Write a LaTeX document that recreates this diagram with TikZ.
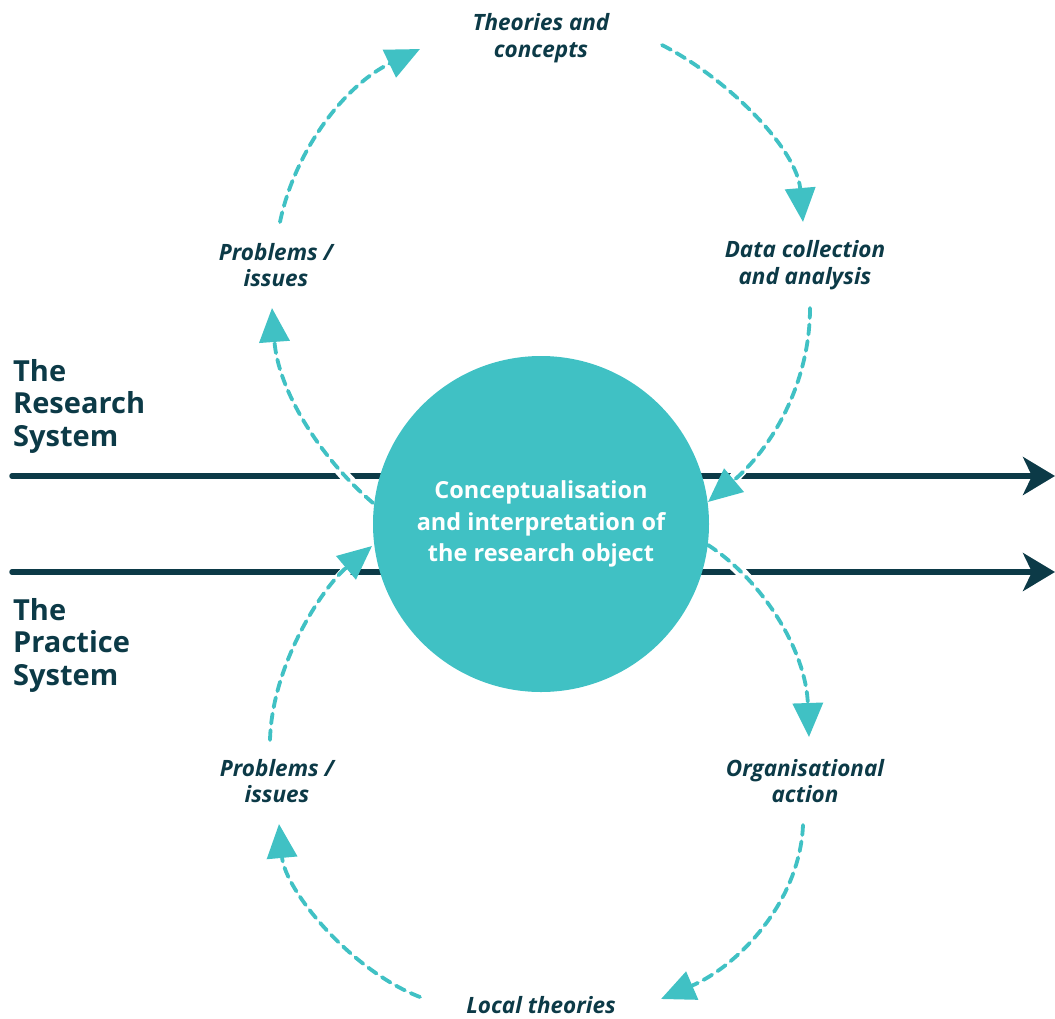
\documentclass[tikz,border=0pt]{standalone}
\usepackage{fontspec}
\setmainfont{Open Sans}
\usetikzlibrary{arrows.meta}
\definecolor{teal1}{HTML}{40C1C4}
\definecolor{dark1}{HTML}{0C3A47}
\begin{document}
\begin{tikzpicture}[x=1pt,y=-1pt,
  sysline/.style={line width=5.5pt,draw=dark1,line cap=round,-{Stealth[length=32pt,width=38pt,inset=9pt]}},
  casing/.style={line width=11pt,draw=white},
  flow/.style={line width=3.8pt,draw=teal1,dash pattern=on 10pt off 6.5pt,line cap=round,-{Triangle[length=34pt,width=30pt,line cap=butt]}},
  lbl/.style={font=\fontsize{22.5}{26.5}\selectfont\bfseries\itshape,text=dark1,align=center,inner sep=0pt},
  sys/.style={font=\fontsize{29}{32.5}\selectfont\bfseries,text=dark1,align=left,inner sep=0pt,anchor=north west},
  hub/.style={circle,fill=teal1,minimum size=336pt,inner sep=0pt,text=white,align=center,font=\fontsize{23.5}{31.5}\selectfont\bfseries}
]
\useasboundingbox (0,0) rectangle (1055,1018);
% system lines
\coordinate (r0) at (12,476);
\coordinate (r1) at (1055,476);
\coordinate (p0) at (12,572);
\coordinate (p1) at (1055,572);
\draw[sysline] (r0) -- (r1);
\draw[sysline] (p0) -- (p1);
% coordinates of flows
\coordinate (s1) at (280,222); \coordinate (t1) at (420,49);
\coordinate (s2) at (662,45);  \coordinate (t2) at (803,222);
\coordinate (s3) at (810,308); \coordinate (t3) at (708,502);
\coordinate (s4) at (373,503); \coordinate (t4) at (272,308);
\coordinate (s5) at (270,740); \coordinate (t5) at (372,546);
\coordinate (s6) at (708,545); \coordinate (t6) at (809,737);
\coordinate (s7) at (803,825); \coordinate (t7) at (661,999);
\coordinate (s8) at (420,997); \coordinate (t8) at (279,824);
% white casings where flows cross the system lines
\draw[casing] (s3) .. controls (810,385) and (770,450) .. (t3);
\draw[casing] (s4) .. controls (320,458) and (278,390) .. (t4);
\draw[casing] (s5) .. controls (272,665) and (322,588) .. (t5);
\draw[casing] (s6) .. controls (762,580) and (806,650) .. (t6);
% hub
\node[hub] (hub) at (541,524) {Conceptualisation\\and interpretation of\\the research object};
% flows
\draw[flow] (s1) .. controls (295,150) and (345,85) .. (t1);
\draw[flow] (s2) .. controls (730,80) and (797,150) .. (t2);
\draw[flow] (s3) .. controls (810,385) and (770,450) .. (t3);
\draw[flow] (s4) .. controls (320,458) and (278,390) .. (t4);
\draw[flow] (s5) .. controls (272,665) and (322,588) .. (t5);
\draw[flow] (s6) .. controls (762,580) and (806,650) .. (t6);
\draw[flow] (s7) .. controls (800,900) and (740,965) .. (t7);
\draw[flow] (s8) .. controls (350,970) and (285,890) .. (t8);
% labels
\node[lbl] (theo) at (541,38) {Theories and\\concepts};
\node[lbl] (prob1) at (276,265) {Problems /\\issues};
\node[lbl] (data) at (805,265) {Data collection\\and analysis};
\node[lbl] (prob2) at (277,781) {Problems /\\issues};
\node[lbl] (org) at (805,781) {Organisational\\action};
\node[lbl] (loc) at (541,1005) {Local theories};
\node[sys] (rs) at (13,359) {The\\Research\\System};
\node[sys] (ps) at (13,598) {The\\Practice\\System};
\end{tikzpicture}
\end{document}
